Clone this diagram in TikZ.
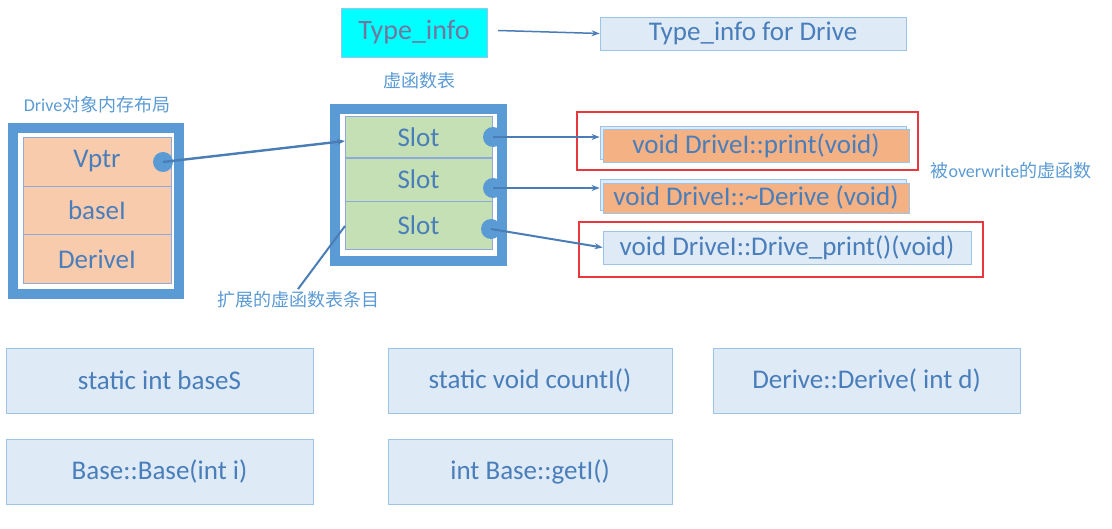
\documentclass[tikz,border=0pt]{standalone}
\usepackage{fontspec}
\setmainfont{Carlito}
\newfontfamily\cjk{Noto Sans CJK SC}
\usetikzlibrary{arrows.meta}
\definecolor{txt}{HTML}{4A7EBB}
\definecolor{lbl}{HTML}{5B9BD5}
\definecolor{frame}{HTML}{5B9BD5}
\definecolor{cellbd}{HTML}{8EAADB}
\definecolor{orangec}{HTML}{F8CBAD}
\definecolor{orangef}{HTML}{F4B183}
\definecolor{greenc}{HTML}{C5E0B4}
\definecolor{lightb}{HTML}{DEEAF6}
\definecolor{lightbd}{HTML}{9DC3E6}
\definecolor{redbox}{HTML}{E8383D}
\definecolor{conn}{HTML}{4A7DB5}
\definecolor{tinfo}{HTML}{72769E}
\definecolor{cyanf}{HTML}{00FFFF}
\tikzset{
  big/.style={font=\fontsize{27}{31}\selectfont, text=txt},
  small/.style={font=\fontsize{18}{21}\selectfont, text=lbl},
  cellbox/.style={draw=cellbd, line width=0.8pt, inner sep=0pt},
  fnbox/.style={draw=lightbd, fill=lightb, line width=0.8pt, inner sep=0pt},
  dot/.style={circle, fill=frame, minimum size=20pt, inner sep=0pt},
  conline/.style={draw=conn, line width=2pt, -{Stealth[length=8pt,width=6pt]}},
  redfr/.style={draw=redbox, line width=2.6pt},
}
\begin{document}
\begin{tikzpicture}[x=1pt,y=-1pt]
\useasboundingbox (0,0) rectangle (1112,529);
\fill[white] (0,0) rectangle (1112,529);

% Type_info
\node[draw=lightbd, fill=cyanf, minimum width=146pt, minimum height=49pt, inner sep=0pt,
  font=\fontsize{28}{32}\selectfont, text=tinfo] (ti) at (414,32.5) {Type\_info};
\node[fnbox, minimum width=306pt, minimum height=33pt, big] (tid) at (753,33.5) {Type\_info for Drive};
\draw[conline, line width=1.5pt] (ti.east) ++(11pt,2pt) coordinate (tis) -- (tid.west);

% labels
\node[small] (lvt) at (419,81) {\cjk 虚函数表};
\node[small] (lobj) at (97,105) {Drive\cjk 对象内存布局};

% left object frame
\draw[frame, line width=10pt] (13,128) rectangle (179,294);
\node[cellbox, fill=orangec, minimum width=148pt, minimum height=49pt, big] (vptr) at (97,161.5) {Vptr};
\node[cellbox, fill=orangec, minimum width=148pt, minimum height=48pt, big] (basei) at (97,210.5) {baseI};
\node[cellbox, fill=orangec, minimum width=148pt, minimum height=49pt, big] (derivei) at (97,259) {DeriveI};
\node[dot] (d0) at (163,162) {};

% vtable frame
\draw[frame, line width=10pt] (335,109) rectangle (502,261);
\node[cellbox, fill=greenc, minimum width=147pt, minimum height=41pt, big] (s1) at (418.5,137) {Slot};
\node[cellbox, fill=greenc, minimum width=147pt, minimum height=43pt, big] (s2) at (418.5,179.5) {Slot};
\node[cellbox, fill=greenc, minimum width=147pt, minimum height=48pt, big] (s3) at (418.5,225) {Slot};
\node[dot] (d1) at (493,137) {};
\node[dot] (d2) at (493,188) {};
\node[dot] (d3) at (491,229) {};

\coordinate (s1in) at (345,141);
\coordinate (s3in) at (345,226);
\draw[conline, line width=2.4pt] (d0.center) -- (s1in);

% extension label
\node[small] (ext) at (298,300) {\cjk 扩展的虚函数表条目};
\draw[conn, line width=2pt] (ext.north) ++(0,-1pt) coordinate (exttop) -- (s3in);

% function boxes
\node[fnbox, minimum width=306pt, minimum height=33pt] (p1b) at (753,142.5) {};
\node[cellbox, draw=lightbd, fill=orangef, minimum width=306pt, minimum height=33pt, big] (p1) at (756,145.5) {void DriveI::print(void)};
\node[fnbox, minimum width=306pt, minimum height=31pt] (p2b) at (753,194.5) {};
\node[cellbox, draw=lightbd, fill=orangef, minimum width=306pt, minimum height=30pt, big] (p2) at (756,198) {void DriveI::\textasciitilde Derive (void)};
\node[fnbox, minimum width=368pt, minimum height=33pt, big] (p3) at (787,247.5) {void DriveI::Drive\_print()(void)};

\draw[redfr] (577,112) rectangle (918,170);
\draw[redfr] (579,222) rectangle (983,277);
\node[small] (ow) at (1011,171) {\cjk 被{\fontspec{Carlito}overwrite}的虚函数};

\draw[conline] (d1.center) -- (p1b.west |- d1);
\draw[conline] (d2.center) -- (p2b.west |- d2);
\draw[conline] (d3.center) -- (p3.west);

% bottom boxes
\node[fnbox, minimum width=307pt, minimum height=65pt, big] (b1) at (159.5,380.5) {static int baseS};
\node[fnbox, minimum width=284pt, minimum height=65pt, big] (b2) at (530,380.5) {static void countI()};
\node[fnbox, minimum width=307pt, minimum height=65pt, big] (b3) at (866.5,380.5) {Derive::Derive( int d)};
\node[fnbox, minimum width=307pt, minimum height=65pt, big] (b4) at (159.5,471.5) {Base::Base(int i)};
\node[fnbox, minimum width=284pt, minimum height=65pt, big] (b5) at (530,471.5) {int Base::getI()};
\end{tikzpicture}
\end{document}
